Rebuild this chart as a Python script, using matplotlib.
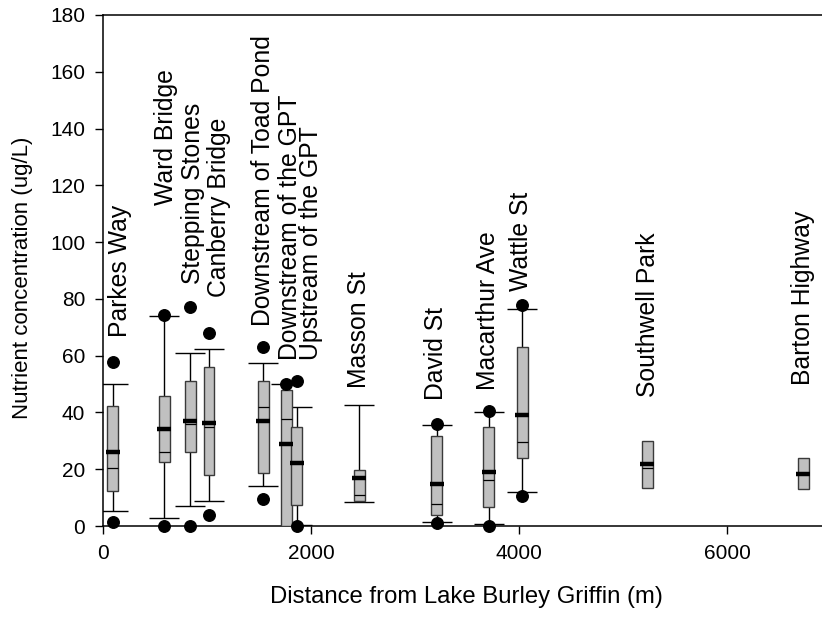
import matplotlib
matplotlib.use("Agg")
import matplotlib.pyplot as plt
import numpy as np

plt.rcParams["font.family"] = ["Liberation Sans", "DejaVu Sans"]

nan = np.nan

# ── data ─────────────────────────────────────────────────────────────────
sites = ["Parkes Way", "Ward Bridge", "Stepping Stones", "Canberry Bridge",
         "Downstream of Toad Pond", "Downstream of the GPT",
         "Upstream of the GPT", "Masson St", "David St", "Macarthur Ave",
         "Wattle St", "Southwell Park", "Barton Highway"]
distance = [93, 589, 839, 1019, 1540, 1760, 1862, 2462, 3209, 3709, 4029,
            5231, 6731]
q1 = [12.4, 22.4, 26.0, 18.0, 18.8, 0.0, 7.4, 8.8, 3.9, 6.8, 23.8, 13.3, 12.9]
q3 = [42.4, 45.8, 51.2, 56.1, 51.0, 47.9, 34.8, 19.7, 31.7, 35.0, 62.9,
      30.1, 24.1]
medians = [20.3, 26.2, 35.9, 35.0, 41.8, 37.6, 22.1, 11.0, 7.6, 16.2, 29.5,
           20.3, 18.4]
means = [26.2, 34.2, 37.1, 36.2, 37.1, 28.8, 22.1, 16.8, 14.7, 19.1, 39.0,
         21.7, 18.4]
whisker_lo = [5.4, 2.8, 7.2, 8.9, 14.0, nan, 0.5, 8.6, 1.3, 0.6, 11.9, nan, nan]
whisker_hi = [49.9, 74.0, 60.8, 62.2, 57.5, 49.9, 42.0, 42.6, 35.6, 40.2, 76.3,
              nan, nan]
outlier_lo = [1.5, 0.1, 0.0, 3.9, 9.4, nan, 0.0, nan, 1.2, 0.0, 10.7, nan, nan]
outlier_hi = [57.9, 74.3, 77.3, 68.1, 63.1, 50.0, 51.1, nan, 35.9, 40.6, 77.8,
              nan, nan]

# label anchors (bottom-centre of the rotated site names)
label_x = [163, 606, 865, 1115, 1534, 1800, 2000, 2462, 3202, 3702, 4019,
           5240, 6731]
label_y = [66.7, 113.1, 85.2, 80.8, 70.5, 58.5, 58.5, 48.5, 44.4, 47.9, 82.9,
           45.4, 49.7]

BOX_W = 105
CAP_W = 290
MEAN_W = 135

fig = plt.figure(figsize=(8.22, 6.19), dpi=100)
ax = fig.add_axes([103 / 822, 1 - 526 / 619, 719 / 822, 511 / 619])

for i in range(len(sites)):
    x = distance[i]
    # whiskers + caps
    if not np.isnan(whisker_hi[i]):
        ax.vlines(x, q3[i], whisker_hi[i], color="black", lw=1, zorder=2)
        ax.hlines(whisker_hi[i], x - CAP_W / 2, x + CAP_W / 2, color="black",
                  lw=1, zorder=2)
    if not np.isnan(whisker_lo[i]):
        ax.vlines(x, whisker_lo[i], q1[i], color="black", lw=1, zorder=2)
        ax.hlines(whisker_lo[i], x - CAP_W / 2, x + CAP_W / 2, color="black",
                  lw=1, zorder=2)
    # box
    ax.bar(x, q3[i] - q1[i], bottom=q1[i], width=BOX_W, color="#c0c0c0",
           edgecolor="#3a3a3a", lw=1, zorder=3)
    # median (thin) and mean (thick)
    ax.hlines(medians[i], x - BOX_W / 2, x + BOX_W / 2, color="black",
              lw=0.9, zorder=4)
    ax.hlines(means[i], x - MEAN_W / 2, x + MEAN_W / 2, color="black",
              lw=3.2, zorder=5)

# outliers
ax.plot(distance, outlier_lo, "o", color="black", ms=8.3, ls="none",
        clip_on=False, zorder=6)
ax.plot(distance, outlier_hi, "o", color="black", ms=8.3, ls="none",
        clip_on=False, zorder=6)

# site names
for name, lx, ly in zip(sites, label_x, label_y):
    ax.text(lx, ly, name, rotation=90, ha="center", va="bottom", fontsize=17.8)

ax.set_xlim(0, 6913)
ax.set_ylim(0, 180)
ax.set_xticks([0, 2000, 4000, 6000])
ax.set_yticks(np.arange(0, 181, 20))
ax.tick_params(direction="out", length=5.8, width=1, labelsize=15, pad=7)
ax.spines["right"].set_visible(False)
for s in ("left", "bottom", "top"):
    ax.spines[s].set_linewidth(1.1)

fig.text(23 / 822, 1 - 278 / 619, "Nutrient concentration (ug/L)",
         rotation=90, ha="center", va="center", fontsize=16)
fig.text(466 / 822, 1 - 597 / 619, "Distance from Lake Burley Griffin (m)",
         ha="center", va="center", fontsize=17.2)

fig.savefig("out.png", dpi=100, facecolor="white")
